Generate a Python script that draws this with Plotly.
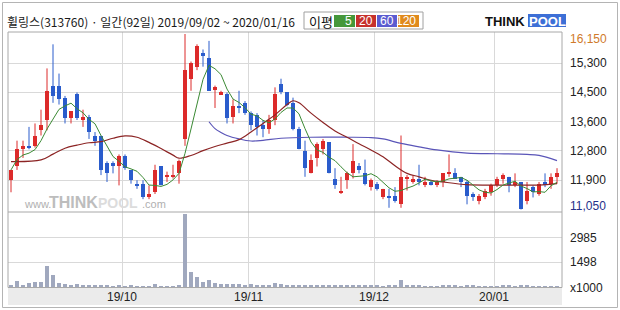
import plotly.graph_objects as go
import pandas as pd

# ---------------- data ----------------
title_text = "휠링스(313760) · 일간(92일) 2019/09/02 ~ 2020/01/16"

opens = [11900, 12300, 12800, 12900, 12900, 13350, 13650, 14650, 14650, 14300,
         13700, 14400, 13650, 13750, 13200, 13200, 12400, 12400, 12300, 12600,
         12200, 11800, 11800, 11400, 11550, 12300, 12000, 12000, 12100, 13100,
         14850, 15200, 15600, 15450, 14550, 14400, 14400, 13750, 14050, 14150,
         13850, 13800, 13500, 13400, 13650, 14700, 14450, 14150, 13400, 12750,
         12100, 12550, 12800, 13000, 11950, 11550, 11900, 12100, 12300, 12100,
         11700, 11800, 11400, 11450, 11450, 11200, 11950, 11850, 11950, 11750,
         11850, 11750, 11850, 12100, 12100, 12000, 11850, 11500, 11300, 11400,
         11550, 11750, 11950, 12000, 11750, 11850, 11300, 11700, 11500, 11850,
         11800, 12000]
highs = [12200, 13050, 13050, 13450, 13550, 13950, 15150, 15850, 15000, 14350,
         13900, 14450, 13950, 13800, 13300, 13200, 12450, 12450, 12650, 12650,
         12200, 11900, 11900, 11750, 12350, 12300, 12150, 12350, 12500, 16150,
         15350, 15850, 15700, 15950, 14650, 14500, 14450, 14250, 14500, 14200,
         13900, 13850, 13650, 13800, 14600, 14850, 14450, 14300, 13450, 13050,
         12650, 13000, 13100, 13000, 12250, 12000, 12150, 12950, 12400, 12500,
         11950, 11850, 11650, 11650, 11700, 13200, 12050, 12050, 12350, 12000,
         11900, 11900, 12100, 12650, 12250, 12000, 11900, 11550, 11500, 11650,
         11800, 12000, 12100, 12000, 12100, 11850, 11850, 11750, 11850, 12100,
         12100, 12250]
lows = [11550, 12200, 12550, 12800, 12850, 13200, 13350, 14150, 14100, 13550,
        13550, 13650, 13450, 13100, 12900, 12050, 11850, 12100, 11750, 12200,
        11800, 11650, 11350, 11350, 11500, 11750, 11850, 11950, 11800, 12900,
        14500, 15100, 15200, 14500, 14000, 14400, 13550, 13550, 13850, 13800,
        13350, 13200, 13150, 13250, 13500, 14400, 14050, 13350, 12800, 12000,
        12100, 12300, 12650, 12100, 11650, 11500, 11650, 11950, 12100, 11750,
        11600, 11600, 11350, 11100, 11250, 11100, 11600, 11800, 11750, 11700,
        11750, 11700, 11700, 12000, 11950, 11700, 11200, 11300, 11200, 11350,
        11450, 11700, 11800, 11550, 11700, 11050, 11200, 11400, 11450, 11700,
        11650, 11800]
closes = [12200, 12800, 12900, 12850, 13200, 13500, 14500, 14350, 14250, 13700,
          13900, 13700, 13750, 13300, 13050, 12200, 12100, 12300, 12600, 12250,
          11900, 11750, 11400, 11500, 12200, 11750, 12050, 12050, 12450, 15100,
          15300, 15800, 15500, 14500, 14600, 14450, 13700, 14050, 14000, 13850,
          13500, 13450, 13400, 13650, 14400, 14450, 14100, 13400, 12800, 12250,
          12500, 12950, 13050, 12100, 11750, 11600, 12100, 12450, 12200, 11800,
          11900, 11650, 11650, 11400, 11300, 12000, 12000, 11950, 11850, 11850,
          11750, 11850, 12100, 12150, 11950, 11850, 11450, 11400, 11450, 11600,
          11750, 11950, 12050, 11750, 11850, 11050, 11600, 11550, 11800, 11750,
          12000, 12100]
volumes_k = [120, 360, 100, 240, 300, 300, 1270, 730, 240, 160,
             120, 160, 120, 100, 100, 100, 120, 60, 100, 60,
             100, 60, 60, 60, 160, 60, 60, 60, 100, 4420,
             930, 630, 320, 420, 240, 180, 180, 180, 180, 140,
             180, 140, 140, 140, 240, 180, 140, 140, 140, 140,
             100, 100, 80, 80, 100, 80, 80, 140, 80, 80,
             80, 80, 60, 80, 80, 420, 120, 80, 80, 60,
             60, 60, 80, 140, 80, 60, 140, 80, 60, 60,
             60, 60, 80, 80, 60, 140, 80, 60, 60, 60,
             60, 60]

ma20_idx = [0, 5, 7, 9, 11, 13, 15, 17, 19, 21, 23, 25, 27, 28, 30, 32, 34, 36, 38,
            40, 42, 44, 46, 47, 48, 50, 52, 54, 56, 58, 60, 62, 64, 66, 68, 70, 72,
            76, 80, 84, 88, 91]
ma20_val = [12440, 12490, 12660, 12830, 12920, 12990, 13020, 13120, 13190, 13150,
            13000, 12820, 12630, 12540, 12620, 12760, 12880, 12980, 13080, 13300,
            13550, 13800, 14100, 14210, 14150, 13850, 13580, 13330, 13150, 12960,
            12780, 12580, 12320, 12100, 12000, 11900, 11850, 11770, 11760, 11760,
            11760, 11800]
ma60_idx = [33, 34, 35, 36, 38, 40, 42, 45, 50, 56, 60, 62, 65, 68, 71, 76, 81, 86, 88, 91]
ma60_val = [13600, 13400, 13290, 13200, 13100, 13040, 13060, 13120, 13150, 13150,
            13140, 13100, 12970, 12870, 12780, 12690, 12670, 12650, 12620, 12470]

month_start_idx = [19, 40, 61, 81]
month_labels = ["19/10", "19/11", "19/12", "20/01"]

price_ticks = [16150, 15300, 14450, 13600, 12750, 11900, 11050]
price_tick_text = ["16,150", "15,300", "14,500", "13,600", "12,800", "11,900", "11,050"]
vol_ticks = [1498, 2985]
vol_tick_text = ["1498", "2985"]

legend_items = ["5", "20", "60", "120"]

# ---------------- styling ----------------
W, H = 620, 310
RED = "#dc2a2a"
BLUE = "#2a5ccc"
VOLC = "#a0a8be"
GRID = "#d9d9d9"
FONT = "Noto Sans CJK KR"


def px(x):
    return x / W


def py(y):
    return 1 - y / H


n = len(closes)
idx = list(range(n))
ma5 = pd.Series(closes).rolling(5, min_periods=1).mean().tolist()

fig = go.Figure()

# candle bodies & wicks split by colour
for up, col in ((True, RED), (False, BLUE)):
    sel = [i for i in idx if (closes[i] >= opens[i]) == up]
    base = [min(opens[i], closes[i]) for i in sel]
    hgt = [max(abs(closes[i] - opens[i]), 25) for i in sel]
    fig.add_trace(go.Bar(x=sel, y=hgt, base=base, width=0.66, marker_color=col,
                         marker_line_width=0, xaxis="x", yaxis="y", showlegend=False,
                         hoverinfo="skip"))
    wx, wy = [], []
    for i in sel:
        wx += [i, i, None]
        wy += [lows[i], highs[i], None]
    fig.add_trace(go.Scatter(x=wx, y=wy, mode="lines", line=dict(color=col, width=1),
                             xaxis="x", yaxis="y", showlegend=False, hoverinfo="skip"))

# moving averages
fig.add_trace(go.Scatter(x=ma60_idx, y=ma60_val, mode="lines",
                         line=dict(color="#5a55b8", width=1.2, shape="spline"),
                         xaxis="x", yaxis="y", showlegend=False, hoverinfo="skip"))
fig.add_trace(go.Scatter(x=ma20_idx, y=ma20_val, mode="lines",
                         line=dict(color="#8c2424", width=1.2, shape="spline"),
                         xaxis="x", yaxis="y", showlegend=False, hoverinfo="skip"))
fig.add_trace(go.Scatter(x=idx, y=ma5, mode="lines",
                         line=dict(color="#3b8a34", width=1),
                         xaxis="x", yaxis="y", showlegend=False, hoverinfo="skip"))

# volume
fig.add_trace(go.Bar(x=idx, y=volumes_k, width=0.7, marker_color=VOLC, marker_line_width=0,
                     xaxis="x2", yaxis="y2", showlegend=False, hoverinfo="skip"))

xgrid = [m - 0.5 for m in month_start_idx]
xr = [-0.5, 91.83]
common_x = dict(range=xr, showticklabels=False, ticks="", tickvals=xgrid, showgrid=True,
                gridcolor=GRID, gridwidth=1, zeroline=False, showline=False,
                domain=[px(8), px(562)], fixedrange=True)
fig.update_layout(
    width=W, height=H, margin=dict(l=0, r=0, t=0, b=0),
    paper_bgcolor="white", plot_bgcolor="white", bargap=0, barmode="overlay",
    xaxis=dict(anchor="y", **common_x),
    xaxis2=dict(anchor="y2", **common_x),
    yaxis=dict(domain=[py(212), py(32)], range=[10977, 16208], tickvals=price_ticks[1:-1],
               showticklabels=False, showgrid=True, gridcolor=GRID, zeroline=False,
               showline=False, fixedrange=True),
    yaxis2=dict(domain=[py(287), py(212)], range=[0, 4530], tickvals=vol_ticks,
                showticklabels=False, showgrid=True, gridcolor=GRID, zeroline=False,
                showline=False, fixedrange=True),
    font=dict(family=FONT, color="#222222"),
)

shapes = []
# outer frame
shapes.append(dict(type="rect", xref="paper", yref="paper", x0=px(2.5), y0=py(2.5),
                   x1=px(617.5), y1=py(307.5), line=dict(color="#b4b4b4", width=1)))
# x-axis band
shapes.append(dict(type="rect", xref="paper", yref="paper", x0=px(8), y0=py(287.5),
                   x1=px(562), y1=py(305), fillcolor="#ebebeb", line=dict(width=0),
                   layer="below"))
# plot frame
shapes.append(dict(type="rect", xref="paper", yref="paper", x0=px(8), y0=py(287.5),
                   x1=px(562), y1=py(32), line=dict(color="#a8a8a8", width=1)))
shapes.append(dict(type="line", xref="paper", yref="paper", x0=px(8), y0=py(212),
                   x1=px(562), y1=py(212), line=dict(color="#a8a8a8", width=1)))
# legend box
shapes.append(dict(type="rect", xref="paper", yref="paper", x0=px(304), y0=py(12),
                   x1=px(423), y1=py(29), line=dict(color="#a0a0a0", width=1),
                   fillcolor="white"))
leg_cols = ["#45973a", "#c6312c", "#5b5bd0", "#e08a1c"]
leg_x = [(334, 355), (356, 376), (377, 397), (398, 419)]
for (a, b), c in zip(leg_x, leg_cols):
    shapes.append(dict(type="rect", xref="paper", yref="paper", x0=px(a), y0=py(15),
                       x1=px(b), y1=py(27), fillcolor=c, line=dict(width=0)))
# logo blue box
shapes.append(dict(type="rect", xref="paper", yref="paper", x0=px(528), y0=py(14),
                   x1=px(566), y1=py(27), fillcolor="#3d6fd6", line=dict(width=0)))
fig.update_layout(shapes=shapes)

ann = []
ann.append(dict(text=title_text, x=px(5), y=py(22), xref="paper", yref="paper",
                xanchor="left", yanchor="middle", showarrow=False,
                font=dict(size=12, color="#1a1a1a", family=FONT)))
ann.append(dict(text="이평", x=px(307), y=py(21), xref="paper", yref="paper",
                xanchor="left", yanchor="middle", showarrow=False,
                font=dict(size=13, color="#111111", family=FONT)))
for (a, b), t in zip(leg_x, legend_items):
    ann.append(dict(text=t, x=px(b - 1), y=py(21), xref="paper", yref="paper",
                    xanchor="right", yanchor="middle", showarrow=False,
                    font=dict(size=12, color="white", family="Liberation Sans")))
ann.append(dict(text="<b>THINK</b>", x=px(527), y=py(21), xref="paper", yref="paper",
                xanchor="right", yanchor="middle", showarrow=False,
                font=dict(size=13, color="#111111", family="Liberation Sans")))
ann.append(dict(text="<b>POOL</b>", x=px(547), y=py(21), xref="paper", yref="paper",
                xanchor="center", yanchor="middle", showarrow=False,
                font=dict(size=13, color="white", family="Liberation Sans")))
# watermark
ann.append(dict(text="www.", x=px(22), y=py(204), xref="paper", yref="paper",
                xanchor="left", yanchor="middle", showarrow=False,
                font=dict(size=11, color="#b0b0b0", family="Liberation Sans")))
ann.append(dict(text="<b>THINK</b>", x=px(47), y=py(203), xref="paper", yref="paper",
                xanchor="left", yanchor="middle", showarrow=False,
                font=dict(size=16, color="#bdbdbd", family="Liberation Sans")))
ann.append(dict(text="<b>POOL</b>", x=px(96), y=py(203), xref="paper", yref="paper",
                xanchor="left", yanchor="middle", showarrow=False,
                font=dict(size=14, color="#dcdcdc", family="Liberation Sans")))
ann.append(dict(text=".com", x=px(140), y=py(204), xref="paper", yref="paper",
                xanchor="left", yanchor="middle", showarrow=False,
                font=dict(size=11, color="#b0b0b0", family="Liberation Sans")))
# right price labels
for v, t in zip(price_ticks, price_tick_text):
    col = "#222222"
    yy = v
    yref = "y"
    if t == "16,150":
        col = "#d07a2a"
        yy, yref = py(39), "paper"
    elif t == "11,050":
        col = "#26308a"
        yy, yref = py(206), "paper"
    ann.append(dict(text=t, x=px(568), y=yy, xref="paper", yref=yref, xanchor="left",
                    yanchor="middle", showarrow=False,
                    font=dict(size=12, color=col, family="Liberation Sans")))
for v, t in zip(vol_ticks, vol_tick_text):
    ann.append(dict(text=t, x=px(568), y=v, xref="paper", yref="y2", xanchor="left",
                    yanchor="middle", showarrow=False,
                    font=dict(size=12, color="#222222", family="Liberation Sans")))
ann.append(dict(text="x1000", x=px(568), y=py(288), xref="paper", yref="paper",
                xanchor="left", yanchor="middle", showarrow=False,
                font=dict(size=12, color="#222222", family="Liberation Sans")))
for m, t in zip(month_start_idx, month_labels):
    ann.append(dict(text=t, x=m - 0.5, y=py(297), xref="x2", yref="paper",
                    xanchor="center", yanchor="middle", showarrow=False,
                    font=dict(size=12, color="#222222", family="Liberation Sans")))
fig.update_layout(annotations=ann)

fig.write_html("out.html")
